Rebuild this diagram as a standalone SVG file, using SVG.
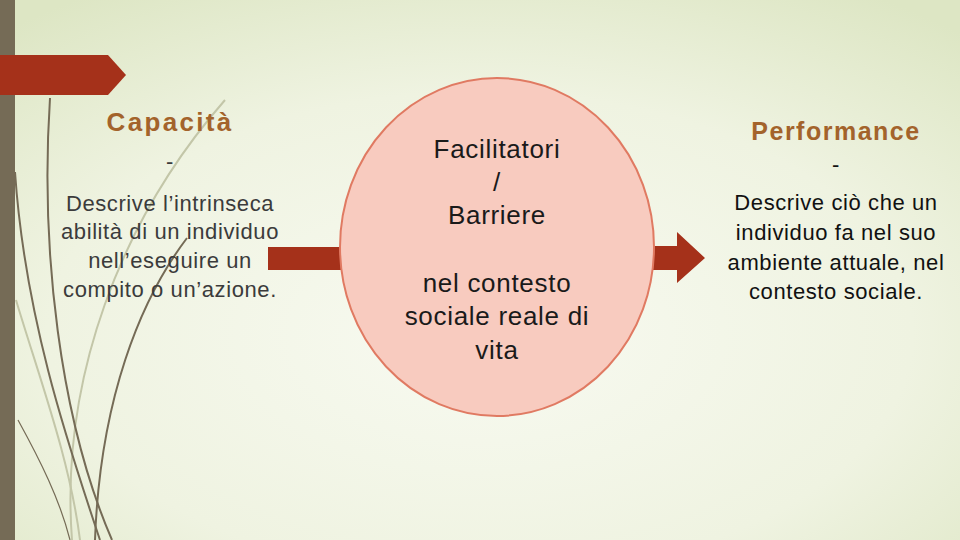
<svg xmlns="http://www.w3.org/2000/svg" width="960" height="540" viewBox="0 0 960 540">
<defs>
<radialGradient id="bg" cx="0.5" cy="0.62" r="0.75">
<stop offset="0" stop-color="#f8faf1"/>
<stop offset="0.6" stop-color="#eff3e1"/>
<stop offset="1" stop-color="#dde6c4"/>
</radialGradient>
<style>
.ttl{font-family:"Liberation Sans",Arial,sans-serif;font-weight:bold;fill:#a3632b;text-anchor:middle}
.body{font-family:"Liberation Sans",Arial,sans-serif;font-size:22px;letter-spacing:0.6px;text-anchor:middle}
.circ{font-family:"Liberation Sans",Arial,sans-serif;font-size:26px;letter-spacing:0.7px;fill:#1a1a1a;text-anchor:middle}
.red{fill:#a5311a}
.deco{fill:none;stroke:#756b56}
.decol{fill:none;stroke:#c3c6a8}
</style>
</defs>
<rect width="960" height="540" fill="url(#bg)"/>
<rect x="0" y="0" width="15" height="540" fill="#756b56"/>
<g id="decor">
<path class="decol" stroke-width="2" d="M225,100 C120,220 60,380 72,540"/>
<path class="decol" stroke-width="2" d="M16,300 C40,380 70,460 80,540"/>
<path class="deco" stroke-width="2" d="M50,98 C40,250 60,420 112,540"/>
<path class="deco" stroke-width="2" d="M15,172 C25,320 70,450 100,540"/>
<path class="deco" stroke-width="2" d="M187,238 C140,300 100,400 95,540"/>
<path class="deco" stroke-width="1.2" d="M18,420 C40,460 60,500 70,540"/>
</g>
<g id="banner"><polygon class="red" points="0,55 108,55 126,75 108,95 0,95"/></g>
<g id="connectors">
<rect class="red" x="268" y="247" width="74" height="23"/>
<polygon class="red" points="652,246 677,246 677,232 705,258 677,283 677,270 652,270"/>
</g>
<g id="capacita">
<text class="ttl" x="170" y="131" font-size="26" letter-spacing="2.3">Capacità</text>
<text class="body" x="170" y="169" fill="#3b3b3b">-</text>
<text class="body" fill="#3b3b3b"><tspan x="170" y="211">Descrive l’intrinseca</tspan><tspan x="170" y="239">abilità di un individuo</tspan><tspan x="170" y="268">nell’eseguire un</tspan><tspan x="170" y="297">compito o un’azione.</tspan></text>
</g>
<g id="fattori">
<ellipse cx="497" cy="247" rx="157" ry="169" fill="#f8cbbf" stroke="#e07a62" stroke-width="2"/>
<text class="circ"><tspan x="497" y="158">Facilitatori</tspan><tspan x="497" y="191">/</tspan><tspan x="497" y="224">Barriere</tspan><tspan x="497" y="292">nel contesto</tspan><tspan x="497" y="325">sociale reale di</tspan><tspan x="497" y="359">vita</tspan></text>
</g>
<g id="performance">
<text class="ttl" x="836" y="140" font-size="25" letter-spacing="1.5">Performance</text>
<text class="body" x="836" y="172" fill="#111">-</text>
<text class="body" fill="#111"><tspan x="836" y="210">Descrive ciò che un</tspan><tspan x="836" y="240">individuo fa nel suo</tspan><tspan x="836" y="270">ambiente attuale, nel</tspan><tspan x="836" y="299">contesto sociale.</tspan></text>
</g>
</svg>
